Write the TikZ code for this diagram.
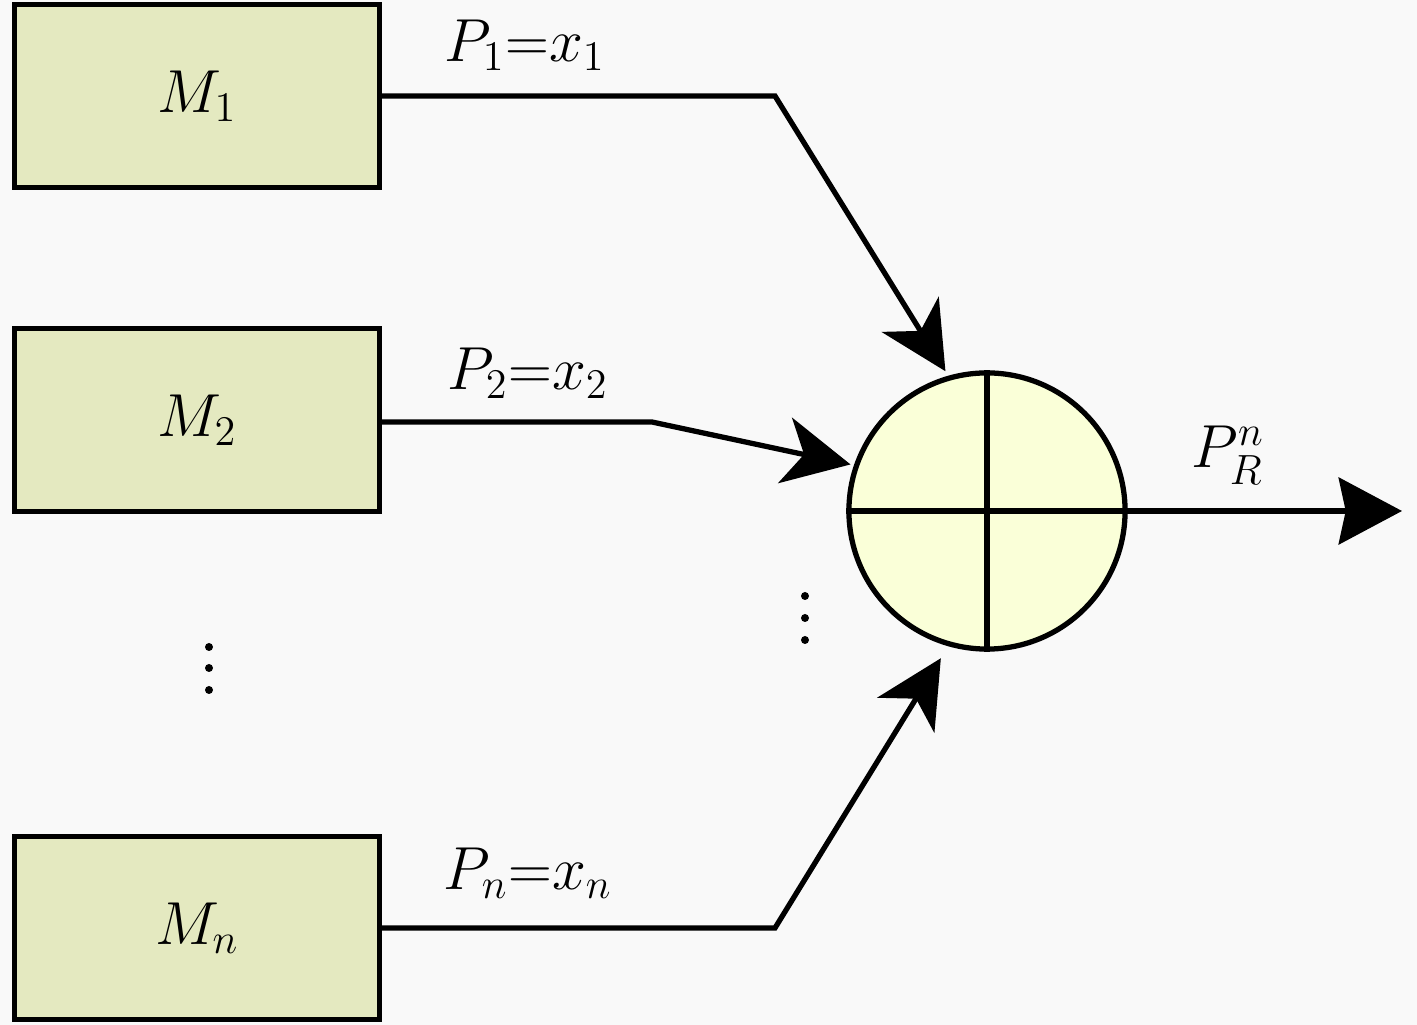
\documentclass[tikz,border=0pt]{standalone}
\usepackage{amsmath}
\usetikzlibrary{arrows.meta}
\definecolor{fundo}{RGB}{249,249,249}
\definecolor{caixa}{RGB}{228,233,192}
\definecolor{bola}{RGB}{250,255,216}

\begin{document}
\begin{tikzpicture}[x=0.01cm, y=-0.01cm,
    font=\fontsize{16.5}{20}\selectfont,
    modulo/.style={draw, line width=1.5pt, fill=caixa,
        minimum width=3.65cm, minimum height=1.83cm},
    liga/.style={line width=1.5pt, -{Stealth[length=19pt, width=19pt, inset=5.5pt]}}]
    % Fundo
    \fill[fundo] (0,0) rectangle (1417,1025);
    \useasboundingbox (0,0) rectangle (1417,1025);
    % Modulos
    \node[modulo] (m1) at (197,96) {$M_1$};
    \node[modulo] (m2) at (197,420) {$M_2$};
    \node[modulo] (mn) at (197,928) {$M_n$};
    % Somador
    \node[draw, circle, line width=1.5pt, fill=bola, minimum size=2.76cm,
        inner sep=0pt] (soma) at (987,511) {};
    \draw[line width=1.5pt] (soma.north) -- (soma.south);
    \draw[line width=1.5pt] (soma.west) -- (soma.east);
    % Pontos
    \foreach \y in {647,668,690} {
        \fill (209,\y) circle (4);
    }
    \foreach \y in {596,618,640} {
        \fill (805,\y) circle (4);
    }
    % Ligacoes
    \coordinate (c1) at (775,96);
    \coordinate (c2) at (652,422);
    \coordinate (cn) at (775,928);
    \coordinate (saida) at (1402,511);
    \draw[liga, shorten >=1.5pt] (m1.east) -- (c1) -- (soma.106);
    \draw[liga, shorten >=1pt] (m2.east |- c2) -- (c2) -- (soma.161);
    \draw[liga, shorten >=4pt] (mn.east) -- (cn) -- (soma.254);
    \draw[line width=1.5pt, -{Stealth[length=18pt, width=19pt, inset=2pt]}]
        (soma.east) -- (soma.east -| saida);
    % Rotulos
    \node (p1) at (525,45) {$P_1{=}x_1$};
    \node (p2) at (528,373) {$P_2{=}x_2$};
    \node (pn) at (528,873) {$P_n{=}x_n$};
    \node (pr) at (1228,455) {$P_R^n$};
\end{tikzpicture}
\end{document}
